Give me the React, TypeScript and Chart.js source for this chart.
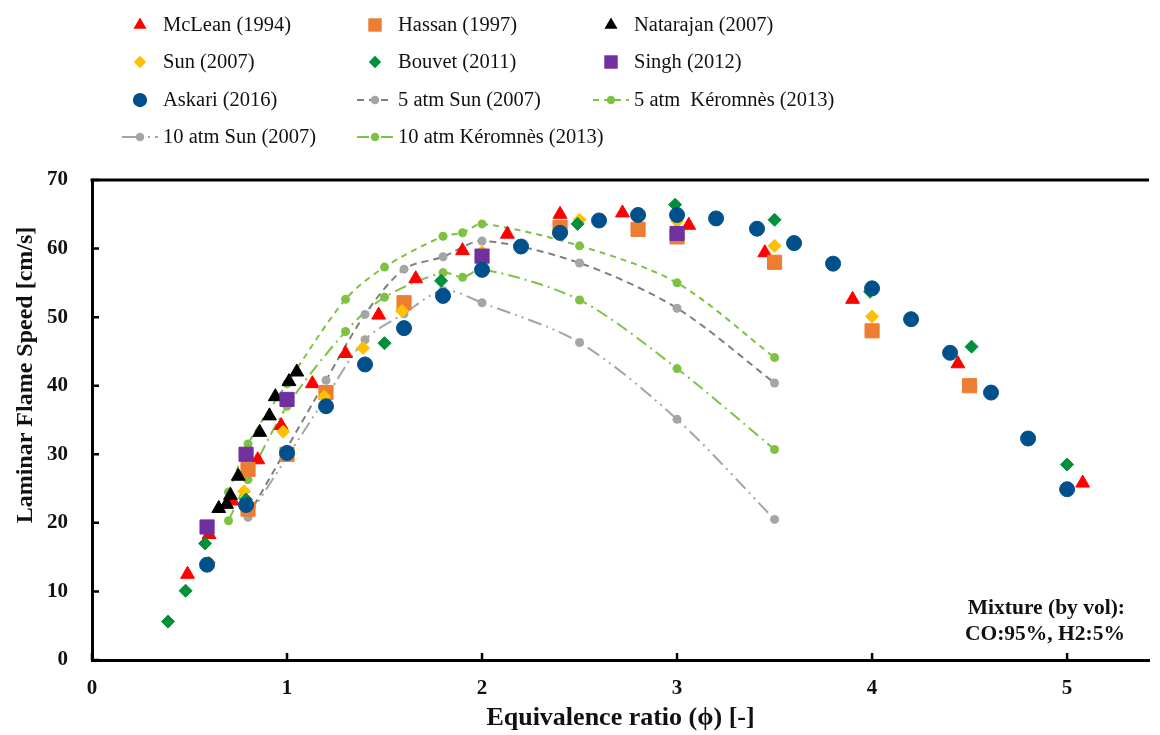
import React, { useEffect, useRef } from "react";
import { Chart, registerables } from "chart.js";

Chart.register(...registerables);

// ---- Measured laminar flame speeds (cm/s) vs equivalence ratio ----
const mcleanPhi = [0.49, 0.6, 0.72, 0.85, 0.97, 1.13, 1.3, 1.47, 1.66, 1.9, 2.13, 2.4, 2.72, 3.06, 3.45, 3.9, 4.44, 5.08];
const mcleanSpeed = [12.5, 18.3, 23.2, 29.2, 34.2, 40.3, 44.7, 50.3, 55.6, 59.7, 62.1, 65.0, 65.2, 63.4, 59.4, 52.6, 43.2, 25.8];

const hassanPhi = [0.8, 0.8, 1.0, 1.2, 1.6, 2.4, 2.8, 3.0, 3.5, 4.0, 4.5];
const hassanSpeed = [22.0, 27.8, 30.0, 39.0, 52.1, 63.1, 62.8, 61.7, 58.0, 48.0, 40.0];

const natarajanPhi = [0.65, 0.69, 0.71, 0.75, 0.86, 0.91, 0.94, 1.01, 1.05];
const natarajanSpeed = [22.1, 22.7, 24.0, 26.8, 33.2, 35.6, 38.4, 40.6, 42.0];

const sunPhi = [0.6, 0.78, 0.98, 1.19, 1.39, 1.59, 2.0, 2.5, 3.0, 3.5, 4.0];
const sunSpeed = [14.2, 24.6, 33.3, 38.4, 45.5, 50.9, 59.5, 64.2, 64.0, 60.4, 50.1];

const bouvetPhi = [0.39, 0.48, 0.58, 0.79, 1.5, 1.79, 2.49, 2.99, 3.5, 3.99, 4.51, 5.0];
const bouvetSpeed = [5.6, 10.1, 17.0, 23.4, 46.2, 55.3, 63.6, 66.4, 64.2, 53.7, 45.7, 28.5];

const singhPhi = [0.59, 0.79, 1.0, 2.0, 3.0];
const singhSpeed = [19.4, 30.0, 38.0, 58.9, 62.2];

const askariPhi = [0.59, 0.79, 1.0, 1.2, 1.4, 1.6, 1.8, 2.0, 2.2, 2.4, 2.6, 2.8, 3.0, 3.2, 3.41, 3.6, 3.8, 4.0, 4.2, 4.4, 4.61, 4.8, 5.0];
const askariSpeed = [13.9, 22.6, 30.2, 37.0, 43.1, 48.4, 53.1, 56.9, 60.3, 62.3, 64.1, 64.9, 64.9, 64.4, 62.9, 60.8, 57.8, 54.2, 49.7, 44.8, 39.0, 32.3, 24.9];

// ---- Elevated-pressure results ----
const sun5Phi = [0.8, 1.2, 1.4, 1.6, 1.8, 2.0, 2.5, 3.0, 3.5];
const sun5Speed = [21.0, 40.8, 50.4, 57.0, 58.8, 61.1, 57.9, 51.3, 40.4];

const keromnes5Phi = [0.7, 0.8, 1.0, 1.3, 1.5, 1.8, 1.9, 2.0, 2.5, 3.0, 3.5];
const keromnes5Speed = [24.5, 31.5, 40.3, 52.6, 57.3, 61.8, 62.3, 63.6, 60.4, 55.0, 44.1];

const sun10Phi = [0.8, 1.2, 1.4, 1.6, 1.8, 2.0, 2.5, 3.0, 3.5];
const sun10Speed = [20.8, 38.3, 46.7, 50.5, 53.9, 52.1, 46.3, 35.1, 20.5];

const keromnes10Phi = [0.7, 0.8, 1.0, 1.3, 1.5, 1.8, 1.9, 2.0, 2.5, 3.0, 3.5];
const keromnes10Speed = [20.3, 26.3, 37.0, 47.9, 52.9, 56.5, 55.8, 57.0, 52.5, 42.5, 30.7];

// ---- Axis ticks ----
const xTicks = [0, 1, 2, 3, 4, 5];
const yTicks = [0, 10, 20, 30, 40, 50, 60, 70];

const SERIF = '"Liberation Serif", "Times New Roman", serif';

const pts = (xs: number[], ys: number[]) => xs.map((x, i) => ({ x, y: ys[i] }));

type Style = "circle" | "triangle" | "rect" | "rectRot";

function drawMarker(ctx: CanvasRenderingContext2D, style: Style, x: number, y: number, r: number, fill: string) {
  ctx.beginPath();
  if (style === "circle") {
    ctx.arc(x, y, r, 0, Math.PI * 2);
  } else if (style === "triangle") {
    for (let k = 0; k < 3; k++) {
      const a = (k * 2 * Math.PI) / 3;
      const px = x + Math.sin(a) * r;
      const py = y - Math.cos(a) * r;
      if (k === 0) ctx.moveTo(px, py);
      else ctx.lineTo(px, py);
    }
    ctx.closePath();
  } else if (style === "rect") {
    const s = r * Math.SQRT1_2;
    ctx.rect(x - s, y - s, 2 * s, 2 * s);
  } else {
    ctx.moveTo(x, y - r);
    ctx.lineTo(x + r, y);
    ctx.lineTo(x, y + r);
    ctx.lineTo(x - r, y);
    ctx.closePath();
  }
  ctx.fillStyle = fill;
  ctx.fill();
}

// Legend laid out as a three-column grid above the plot, plus the y title and the mixture note
const legendPlugin = {
  id: "gridLegend",
  afterDraw(chart: any) {
    const ctx: CanvasRenderingContext2D = chart.ctx;
    const colX = [140, 375, 611];
    const rowY = [25, 62, 100, 137];
    ctx.save();
    chart.data.datasets.forEach((ds: any, i: number) => {
      const cx = colX[i % 3];
      const cy = rowY[Math.floor(i / 3)];
      if (ds.showLine) {
        ctx.save();
        ctx.strokeStyle = ds.borderColor;
        ctx.lineWidth = ds.borderWidth;
        ctx.setLineDash(ds.borderDash || []);
        ctx.beginPath();
        ctx.moveTo(cx - 18, cy);
        ctx.lineTo(cx + 18, cy);
        ctx.stroke();
        ctx.restore();
      }
      drawMarker(ctx, ds.pointStyle, cx, cy, ds.pointRadius * 0.95, ds.pointBackgroundColor);
      ctx.fillStyle = "#111";
      ctx.font = `20.5px ${SERIF}`;
      ctx.textBaseline = "middle";
      ctx.textAlign = "left";
      ctx.fillText(ds.label, cx + 23, cy + 1);
    });

    // y-axis title
    ctx.save();
    ctx.translate(26, 375);
    ctx.rotate(-Math.PI / 2);
    ctx.font = `bold 24px ${SERIF}`;
    ctx.textAlign = "center";
    ctx.textBaseline = "middle";
    ctx.fillStyle = "#111";
    ctx.fillText("Laminar Flame Speed [cm/s]", 0, 0);
    ctx.restore();

    // mixture composition note
    const a = chart.chartArea;
    ctx.font = `bold 21.5px ${SERIF}`;
    ctx.textAlign = "right";
    ctx.textBaseline = "alphabetic";
    ctx.fillStyle = "#111";
    ctx.fillText("Mixture (by vol):", a.right - 24, 614);
    ctx.fillText("CO:95%, H2:5%", a.right - 24, 640);
    ctx.restore();
  },
};

// Top frame line and inward tick marks
const framePlugin = {
  id: "frame",
  beforeDatasetsDraw(chart: any) {
    const ctx: CanvasRenderingContext2D = chart.ctx;
    const a = chart.chartArea;
    const { x, y } = chart.scales;
    ctx.save();
    ctx.strokeStyle = "#000";
    ctx.lineWidth = 3;
    ctx.beginPath();
    ctx.moveTo(a.left - 1.5, a.top);
    ctx.lineTo(a.right, a.top);
    ctx.stroke();
    ctx.lineWidth = 2.5;
    ctx.beginPath();
    xTicks.forEach((v) => {
      const px = x.getPixelForValue(v);
      ctx.moveTo(px, a.bottom);
      ctx.lineTo(px, a.bottom - 7);
    });
    yTicks.forEach((v) => {
      const py = y.getPixelForValue(v);
      ctx.moveTo(a.left, py);
      ctx.lineTo(a.left + 7, py);
    });
    ctx.stroke();
    ctx.restore();
  },
};

function markerSet(label: string, xs: number[], ys: number[], color: string, style: Style, radius: number, order: number) {
  return {
    label,
    data: pts(xs, ys),
    showLine: false,
    pointStyle: style,
    pointRadius: radius,
    pointBackgroundColor: color,
    pointBorderColor: color,
    pointBorderWidth: 1,
    borderColor: color,
    backgroundColor: color,
    order,
  };
}

function lineSet(label: string, xs: number[], ys: number[], lineColor: string, pointColor: string, dash: number[], order: number) {
  return {
    label,
    data: pts(xs, ys),
    showLine: true,
    borderColor: lineColor,
    borderWidth: 2,
    borderDash: dash,
    tension: 0.3,
    pointStyle: "circle" as Style,
    pointRadius: 4.5,
    pointBackgroundColor: pointColor,
    pointBorderColor: pointColor,
    pointBorderWidth: 0,
    backgroundColor: pointColor,
    order,
  };
}

export default function App() {
  const ref = useRef<HTMLCanvasElement | null>(null);

  useEffect(() => {
    document.body.style.margin = "0";
    const canvas = ref.current;
    if (!canvas) return;
    const green = "#7DC242";
    const chart = new Chart(canvas, {
      type: "scatter",
      data: {
        datasets: [
          markerSet("McLean (1994)", mcleanPhi, mcleanSpeed, "#FF0000", "triangle", 8, 7),
          markerSet("Hassan (1997)", hassanPhi, hassanSpeed, "#ED7D31", "rect", 10, 6),
          markerSet("Natarajan (2007)", natarajanPhi, natarajanSpeed, "#000000", "triangle", 8, 5),
          markerSet("Sun (2007)", sunPhi, sunSpeed, "#FFC000", "rectRot", 6.5, 4),
          markerSet("Bouvet (2011)", bouvetPhi, bouvetSpeed, "#00903C", "rectRot", 6.5, 3),
          markerSet("Singh (2012)", singhPhi, singhSpeed, "#7030A0", "rect", 10, 2),
          markerSet("Askari (2016)", askariPhi, askariSpeed, "#00508C", "circle", 7.5, 1),
          lineSet("5 atm Sun (2007)", sun5Phi, sun5Speed, "#7F7F7F", "#A5A5A5", [7, 5], 8),
          lineSet("5 atm  Kéromnès (2013)", keromnes5Phi, keromnes5Speed, green, green, [6, 5], 9),
          lineSet("10 atm Sun (2007)", sun10Phi, sun10Speed, "#A5A5A5", "#A5A5A5", [14, 5, 2, 5, 2, 5], 10),
          lineSet("10 atm Kéromnès (2013)", keromnes10Phi, keromnes10Speed, green, green, [12, 5, 2, 5], 11),
        ] as any,
      },
      options: {
        animation: false,
        responsive: false,
        layout: { padding: { top: 180, right: 10, left: 0, bottom: 0 } },
        plugins: { legend: { display: false }, tooltip: { enabled: false } },
        scales: {
          x: {
            type: "linear",
            min: 0,
            max: 5.42,
            afterFit: (s: any) => {
              s.height = 75;
            },
            afterBuildTicks: (s: any) => {
              s.ticks = xTicks.map((v) => ({ value: v }));
            },
            grid: { display: false, drawTicks: false },
            border: { display: true, width: 3, color: "#000" },
            ticks: {
              color: "#111",
              padding: 16,
              font: { family: SERIF, size: 21, weight: "bold" },
            },
            title: {
              display: true,
              text: "Equivalence ratio (ϕ) [-]",
              color: "#111",
              padding: { top: 0, bottom: 1 },
              font: { family: SERIF, size: 26, weight: "bold" },
            },
          },
          y: {
            type: "linear",
            min: 0,
            max: 70,
            afterFit: (s: any) => {
              s.width = 92;
            },
            afterBuildTicks: (s: any) => {
              s.ticks = yTicks.map((v) => ({ value: v }));
            },
            grid: { display: false, drawTicks: false },
            border: { display: true, width: 3, color: "#000" },
            ticks: {
              color: "#111",
              padding: 24,
              font: { family: SERIF, size: 21, weight: "bold" },
            },
            title: { display: false },
          },
        },
      },
      plugins: [framePlugin, legendPlugin],
    });
    return () => chart.destroy();
  }, []);

  return (
    <div style={{ width: 1160, height: 735, background: "#fff" }}>
      <canvas ref={ref} width={1160} height={735} />
    </div>
  );
}
